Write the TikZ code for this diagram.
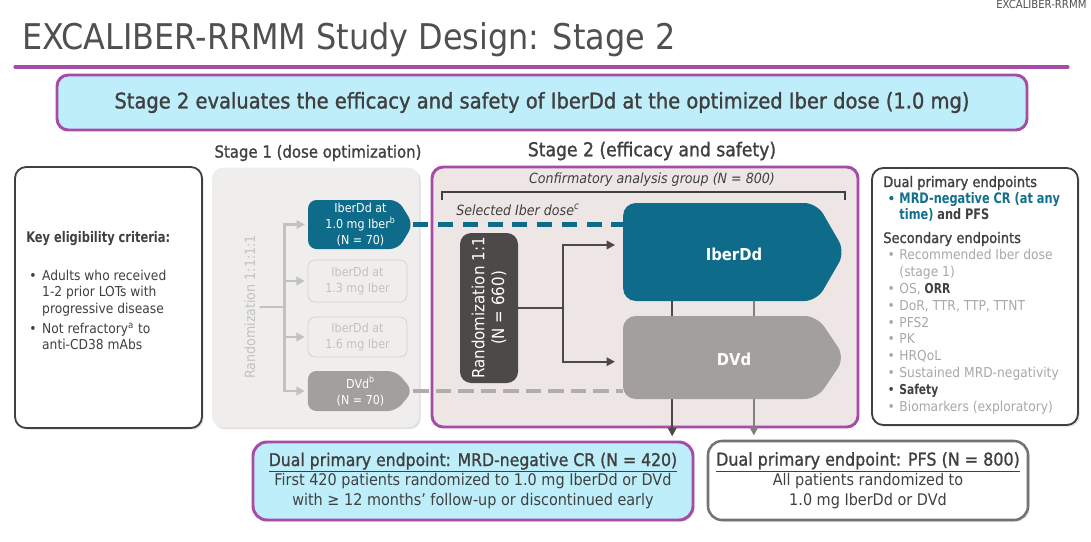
\documentclass[tikz,border=0pt]{standalone}
\usepackage{fontspec}
\setmainfont{DejaVu Sans Condensed}
\newfontfamily\semib{DejaVu Sans Condensed}[FakeStretch=0.87]
\newfontfamily\medw{DejaVu Sans Condensed}[FakeBold=1.2]
\usepackage{tikz}
\usetikzlibrary{shapes.symbols,shadows,arrows.meta}

\definecolor{ttl}{HTML}{505050}
\definecolor{txt}{HTML}{404040}
\definecolor{purp}{HTML}{A64CA8}
\definecolor{cyanbg}{HTML}{BDEEFA}
\definecolor{tealbox}{HTML}{0E6B89}
\definecolor{tealtxt}{HTML}{13708C}
\definecolor{graybox}{HTML}{A29F9C}
\definecolor{panelone}{HTML}{EFEEEC}
\definecolor{paneltwo}{HTML}{EDE6E4}
\definecolor{faint}{HTML}{C2C2C2}
\definecolor{darkbox}{HTML}{4C4948}
\definecolor{litetxt}{HTML}{A8A8A8}

\newcommand{\fsz}[2]{\fontsize{#1}{#2}\selectfont}
\newcommand{\blt}[1]{\makebox[#1][l]{\textbullet}}
\newcommand{\hb}{\semib\bfseries}

\begin{document}
\begin{tikzpicture}[x=0.025cm, y=-0.025cm, line cap=round,
  sz/.style 2 args={minimum width=#1*0.025cm, minimum height=#2*0.025cm},
  softshadow/.style={drop shadow={shadow xshift=1.2pt, shadow yshift=-1.2pt, opacity=0.25}},
  rbox/.style={rectangle, rounded corners=8pt, inner sep=0pt, align=center},
  arrowbox/.style={shape=signal, signal to=east, signal pointer angle=#1,
    rounded corners=6pt, inner sep=0pt},
  smallbox/.style={rbox, rounded corners=5pt, draw=faint!70, line width=0.6pt,
    fill=panelone, text=faint, font=\fsz{8.8}{11.3}},
  boxtext/.style={align=center, inner sep=0pt, text=white},
  faintline/.style={faint, line width=2pt},
  darkline/.style={darkbox, line width=1.4pt},
  tealdash/.style={tealbox, line width=3.5pt, line cap=butt, dash pattern=on 10.6pt off 7pt},
  graydash/.style={graybox!85, line width=2.8pt, line cap=butt, dash pattern=on 11pt off 5pt},
  >={Triangle[length=6pt,width=6pt]}]
  \useasboundingbox (0,0) rectangle (1091,541);
  \fill[white] (0,0) rectangle (1091,541);
  % ---------- title ----------
  \node[anchor=base west, inner sep=0pt, text=ttl, font=\fsz{8}{9}] (runhead) at (996,8) {EXCALIBER-RRMM};
  \node[anchor=base west, inner sep=0pt, text=ttl, font=\fsz{25.2}{30}] (title) at (22,49) {EXCALIBER-RRMM Study Design: Stage 2};
  \draw[purp, line width=2.2pt] (15,67) -- (1068,67);
  % ---------- banner ----------
  \node[rbox, sz={970}{55}, fill=cyanbg, draw=purp, line width=2.1pt, text=txt, font=\medw\fsz{15.4}{18}] (banner) at (542,102.5)
    {Stage 2 evaluates the efficacy and safety of IberDd at the optimized Iber dose (1.0 mg)};
  % ---------- stage headings ----------
  \node[text=txt, font=\medw\fsz{11.8}{14}] (st1) at (318,153) {Stage 1 (dose optimization)};
  \node[text=txt, font=\medw\fsz{13.6}{16}] (st2) at (652,151) {Stage 2 (efficacy and safety)};
  % ---------- eligibility ----------
  \node[rbox, sz={187}{261}, draw=txt, line width=1.3pt, fill=white, softshadow] (elig) at (108.5,297.5) {};
  \node[anchor=base west, inner sep=0pt, text=txt, font=\hb\fsz{10.4}{12}] (eligh) at (26,242) {Key eligibility criteria:};
  \node[anchor=base west, inner sep=0pt, text=txt, font=\fsz{9.7}{11.8}] (elist) at (29,280)
    {\begin{tabular}[t]{@{}l@{}l@{}}
      \blt{9.2pt} & Adults who received\\
                  & 1-2 prior LOTs with\\
                  & progressive disease\\[2.5pt]
      \blt{9.2pt} & Not refractory\textsuperscript{a} to\\
                  & anti-CD38 mAbs
    \end{tabular}};
  % ---------- stage 1 ----------
  \node[rbox, sz={207}{260}, fill=panelone, softshadow] (stage1) at (315.5,297.5) {};
  \node[rotate=90, text=faint, font=\fsz{10}{12}] (rand1) at (250,307) {Randomization 1:1:1:1};
  \node[arrowbox=118, sz={105}{49}, fill=tealbox] (s1a) at (353.2,224.5) {};
  \node[boxtext, font=\fsz{8.8}{11.3}] (s1atext) at (360.5,224.5) {IberDd at\\1.0 mg Iber\textsuperscript{b}\\(N = 70)};
  \node[smallbox, sz={99}{42}] (s1b) at (357.5,281) {IberDd at\\1.3 mg Iber};
  \node[smallbox, sz={99}{40}] (s1c) at (357.5,337) {IberDd at\\1.6 mg Iber};
  \node[arrowbox=100, sz={105}{40}, fill=graybox] (s1d) at (352,391) {};
  \node[boxtext, font=\fsz{8.8}{11.3}] (s1dtext) at (360.5,391) {DVd\textsuperscript{b}\\(N = 70)};
  \draw[faintline] (rand1.south) -- ++(24,0) coordinate (fork1);
  \foreach \b in {s1a,s1b,s1c,s1d}
    {\draw[faintline, ->, shorten >=2pt, line cap=butt] (fork1) |- (\b.west);}
  % ---------- stage 2 ----------
  \node[rbox, sz={426}{260}, fill=paneltwo, draw=purp, line width=2.1pt] (stage2) at (645,297) {};
  \node[text=txt, font=\itshape\fsz{10}{12}] (conf) at (652,180) {Confirmatory analysis group (N = 800)};
  \draw[txt, line width=0.9pt, line cap=butt] (442,200) -- (442,192) -- (845,192) -- (845,200);
  \node[anchor=base west, inner sep=0pt, text=txt, font=\itshape\fsz{10}{12}] (seldose) at (456,215)
    {Selected Iber dose\textsuperscript{c}};
  % ---------- endpoints at the bottom ----------
  \node[rbox, rounded corners=10pt, sz={440}{78}, fill=cyanbg, draw=purp, line width=2.1pt, text=txt,
        font=\fsz{11.4}{14.2}, softshadow] (mrd) at (473,481)
    {{\medw\fsz{12.4}{14.2}\underline{Dual primary endpoint: MRD-negative CR (N = 420)}}\\
     First 420 patients randomized to 1.0 mg IberDd or DVd\\
     with ≥ 12 months’ follow-up or discontinued early};
  \node[rbox, rounded corners=10pt, sz={320}{79}, fill=white, draw=black!55, line width=1.8pt, text=txt,
        font=\fsz{11.4}{14.2}, softshadow] (pfs) at (868,480.5)
    {{\medw\fsz{12.6}{14.2}\underline{Dual primary endpoint: PFS (N = 800)}}\\
     All patients randomized to\\
     1.0 mg IberDd or DVd};
  % ---------- arms ----------
  \node[arrowbox=120, rounded corners=9pt, sz={222}{98}, fill=tealbox] (iberdd) at (720,252) {};
  \node[boxtext, font=\bfseries\fsz{11.7}{14}] (ibertext) at (734,254) {IberDd};
  \draw[darkline, ->, shorten >=3pt] ([xshift=-34pt]iberdd.south) -- ([xshift=-34pt]iberdd.south |- mrd.north);
  \draw[darkline, black!50, ->, shorten >=3pt] ([xshift=24.1pt]iberdd.south) -- ([xshift=24.1pt]iberdd.south |- pfs.north);
  \node[arrowbox=112, rounded corners=9pt, sz={222}{83}, fill=graybox] (dvd) at (720,357.5) {};
  \node[boxtext, font=\bfseries\fsz{11.7}{14}] (dvdtext) at (734,359) {DVd};
  % ---------- selected dose ----------
  \draw[tealdash] (s1a.east) -- (s1a.east -| iberdd.west);
  \draw[graydash] (s1d.east) -- (s1d.east -| dvd.west);
  % ---------- randomization 1:1 ----------
  \node[rotate=90, rbox, fill=darkbox, sz={150}{58}, text=white, font=\fsz{11.9}{14.2}] (rand2) at (489,308)
    {Randomization 1:1\\(N = 660)};
  \draw[darkline] (rand2.south) -- ++(45,0) coordinate (fork2);
  \draw[darkline, ->, shorten >=5.5pt] (fork2) |- ([yshift=5pt]iberdd.west);
  \draw[darkline, ->, shorten >=5.5pt] (fork2) |- ([yshift=-3pt]dvd.west);
  % ---------- endpoints list ----------
  \node[rbox, sz={206}{257}, draw=txt, line width=1.3pt, fill=white, softshadow] (endp) at (975,296.5) {};
  \node[anchor=base west, inner sep=0pt, text=txt, font=\medw\fsz{10.3}{11.7}] (endp1) at (883,187)
    {\begin{tabular}[t]{@{}l@{}l@{}}
      \multicolumn{2}{@{}l@{}}{Dual primary endpoints}\\
      \hspace{3pt}\textcolor{tealtxt}{\blt{8.5pt}} & \hb\textcolor{tealtxt}{MRD-negative CR (at any}\\
       & \hb\textcolor{tealtxt}{time)} and PFS
    \end{tabular}};
  \node[anchor=base west, inner sep=0pt, text=litetxt, font=\fsz{9.7}{11.95}] (endp2) at (883,243)
    {\begin{tabular}[t]{@{}l@{}l@{}}
      \multicolumn{2}{@{}l@{}}{\textcolor{txt}{\medw\fsz{10.3}{11.95}Secondary endpoints}}\\
      \hspace{3pt}\blt{8.5pt} & Recommended Iber dose\\
       & (stage 1)\\
      \hspace{3pt}\blt{8.5pt} & OS, \textcolor{txt}{\hb ORR}\\
      \hspace{3pt}\blt{8.5pt} & DoR, TTR, TTP, TTNT\\
      \hspace{3pt}\blt{8.5pt} & PFS2\\
      \hspace{3pt}\blt{8.5pt} & PK\\
      \hspace{3pt}\blt{8.5pt} & HRQoL\\
      \hspace{3pt}\blt{8.5pt} & Sustained MRD-negativity\\
      \hspace{3pt}\textcolor{txt}{\blt{8.5pt}} & \textcolor{txt}{\hb Safety}\\
      \hspace{3pt}\blt{8.5pt} & Biomarkers (exploratory)
    \end{tabular}};
\end{tikzpicture}
\end{document}
